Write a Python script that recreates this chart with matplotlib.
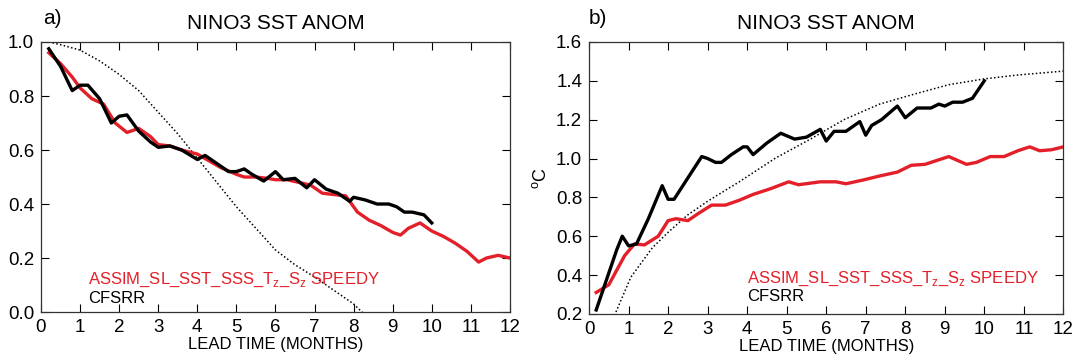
import matplotlib
matplotlib.use('Agg')
import matplotlib.pyplot as plt

plt.rcParams['font.family'] = ['Liberation Sans', 'DejaVu Sans']

# ---- painel a) correlacao ----
xa_red = [0.2, 0.5, 0.8, 1.0, 1.3, 1.6, 1.9, 2.2, 2.5, 2.8, 3.0, 3.3, 3.6, 4.0, 4.3, 4.6,
          5.0, 5.2, 5.5, 5.8, 6.0, 6.3, 6.6, 6.9, 7.2, 7.5, 7.8, 8.1, 8.4, 8.7, 9.0, 9.2,
          9.4, 9.7, 10.0, 10.3, 10.6, 10.9, 11.2, 11.4, 11.7, 12.0]
ya_red = [0.96, 0.92, 0.87, 0.83, 0.79, 0.77, 0.70, 0.665, 0.68, 0.65, 0.62, 0.615, 0.60,
          0.585, 0.56, 0.535, 0.51, 0.50, 0.50, 0.495, 0.49, 0.49, 0.48, 0.47, 0.44, 0.435,
          0.43, 0.37, 0.34, 0.32, 0.295, 0.285, 0.31, 0.33, 0.30, 0.28, 0.255, 0.225, 0.185,
          0.20, 0.21, 0.20]

xa_blk = [0.2, 0.5, 0.8, 1.0, 1.2, 1.5, 1.8, 2.0, 2.2, 2.5, 2.8, 3.0, 3.3, 3.6, 4.0, 4.2,
          4.5, 4.8, 5.0, 5.2, 5.4, 5.7, 6.0, 6.2, 6.5, 6.8, 7.0, 7.3, 7.6, 7.9, 8.0, 8.3,
          8.6, 8.9, 9.1, 9.3, 9.5, 9.8, 10.0]
ya_blk = [0.975, 0.91, 0.82, 0.84, 0.84, 0.79, 0.70, 0.725, 0.73, 0.67, 0.63, 0.61, 0.615,
          0.60, 0.565, 0.58, 0.55, 0.52, 0.52, 0.53, 0.51, 0.485, 0.52, 0.49, 0.495, 0.46,
          0.49, 0.455, 0.44, 0.41, 0.425, 0.415, 0.40, 0.40, 0.39, 0.37, 0.37, 0.36, 0.33]

xa_dot = [0.2, 0.5, 1.0, 1.5, 2.0, 2.5, 3.0, 3.5, 4.0, 4.5, 5.0, 5.5, 6.0, 6.5, 7.0, 7.5,
          8.0, 8.5]
ya_dot = [1.0, 0.99, 0.97, 0.93, 0.88, 0.82, 0.74, 0.66, 0.57, 0.48, 0.39, 0.31, 0.23,
          0.175, 0.13, 0.08, 0.03, -0.04]

# ---- painel b) rms ----
xb_red = [0.18, 0.5, 0.9, 1.15, 1.4, 1.75, 2.0, 2.2, 2.5, 2.75, 3.1, 3.45, 3.8, 4.15, 4.6,
          5.05, 5.3, 5.85, 6.25, 6.5, 6.95, 7.35, 7.8, 8.15, 8.5, 9.1, 9.55, 9.8, 10.15,
          10.5, 10.85, 11.15, 11.4, 11.7, 12.0]
yb_red = [0.31, 0.35, 0.50, 0.56, 0.555, 0.60, 0.68, 0.69, 0.68, 0.715, 0.76, 0.76, 0.785,
          0.815, 0.845, 0.88, 0.865, 0.88, 0.88, 0.87, 0.89, 0.91, 0.93, 0.965, 0.97, 1.01,
          0.97, 0.98, 1.01, 1.01, 1.04, 1.06, 1.04, 1.045, 1.06]

xb_blk = [0.18, 0.7, 0.84, 1.0, 1.2, 1.5, 1.85, 2.0, 2.15, 2.5, 2.85, 3.0, 3.2, 3.35, 3.6,
          3.9, 4.0, 4.15, 4.5, 4.85, 5.2, 5.5, 5.85, 6.0, 6.2, 6.5, 6.85, 7.0, 7.15, 7.4,
          7.8, 8.0, 8.3, 8.65, 8.85, 9.0, 9.2, 9.45, 9.7, 10.0]
yb_blk = [0.22, 0.53, 0.60, 0.55, 0.56, 0.69, 0.86, 0.79, 0.79, 0.90, 1.01, 1.0, 0.98, 0.98,
          1.02, 1.06, 1.06, 1.02, 1.08, 1.13, 1.10, 1.11, 1.15, 1.09, 1.14, 1.14, 1.19, 1.12,
          1.17, 1.20, 1.27, 1.21, 1.26, 1.26, 1.28, 1.27, 1.29, 1.29, 1.31, 1.40]

xb_dot = [0.5, 0.66, 1.06, 1.6, 2.0, 2.5, 3.0, 3.8, 4.7, 5.6, 6.45, 7.35, 8.2, 9.1, 10.0,
          10.85, 12.0]
yb_dot = [0.14, 0.2, 0.39, 0.54, 0.62, 0.71, 0.78, 0.88, 1.0, 1.1, 1.2, 1.28, 1.33, 1.38,
          1.41, 1.43, 1.45]

vermelho = '#e3202a'
nome_red = 'ASSIM_SL_SST_SSS_T$_\\mathregular{z}$_S$_\\mathregular{z}$ SPEEDY'

fig = plt.figure(figsize=(10.73, 3.62), dpi=100)
ax1 = fig.add_axes([0.0382, 0.138, 0.437, 0.746])
ax2 = fig.add_axes([0.549, 0.133, 0.442, 0.751])

for ax in (ax1, ax2):
    ax.set_xlim(0, 12)
    ax.set_xticks(range(0, 13))
    ax.tick_params(direction='in', top=True, right=True, length=6, labelsize=13.5, pad=5)
    ax.set_xlabel('LEAD TIME (MONTHS)', fontsize=12, labelpad=1)
    ax.set_title('NINO3 SST ANOM', fontsize=15, pad=9)
    for s in ax.spines.values():
        s.set_linewidth(0.9)
        s.set_color('#333333')

# painel a
ax1.plot(xa_dot, ya_dot, color='black', lw=1.1, ls=(0, (1, 1.5)))
ax1.plot(xa_red, ya_red, color=vermelho, lw=2.4)
ax1.plot(xa_blk, ya_blk, color='black', lw=2.4)
ax1.set_ylim(0, 1.0)
ax1.set_yticks([0.0, 0.2, 0.4, 0.6, 0.8, 1.0])
ax1.set_yticklabels(['0.0', '0.2', '0.4', '0.6', '0.8', '1.0'])
ax1.text(1.2, 0.105, nome_red, color=vermelho, fontsize=12)
ax1.text(1.2, 0.035, 'CFSRR', color='black', fontsize=12)
fig.text(0.040, 0.935, 'a)', fontsize=15)

# painel b
ax2.plot(xb_dot, yb_dot, color='black', lw=1.1, ls=(0, (1, 1.5)))
ax2.plot(xb_red, yb_red, color=vermelho, lw=2.4)
ax2.plot(xb_blk, yb_blk, color='black', lw=2.4)
ax2.set_ylim(0.2, 1.6)
ax2.set_yticks([0.2, 0.4, 0.6, 0.8, 1.0, 1.2, 1.4, 1.6])
ax2.set_yticklabels(['0.2', '0.4', '0.6', '0.8', '1.0', '1.2', '1.4', '1.6'])
ax2.set_ylabel('$^\\mathregular{o}$C', fontsize=13, labelpad=4)
ax2.text(4.0, 0.36, nome_red, color=vermelho, fontsize=12)
ax2.text(4.0, 0.265, 'CFSRR', color='black', fontsize=12)
fig.text(0.549, 0.935, 'b)', fontsize=15)

fig.savefig('out.png', dpi=100)
